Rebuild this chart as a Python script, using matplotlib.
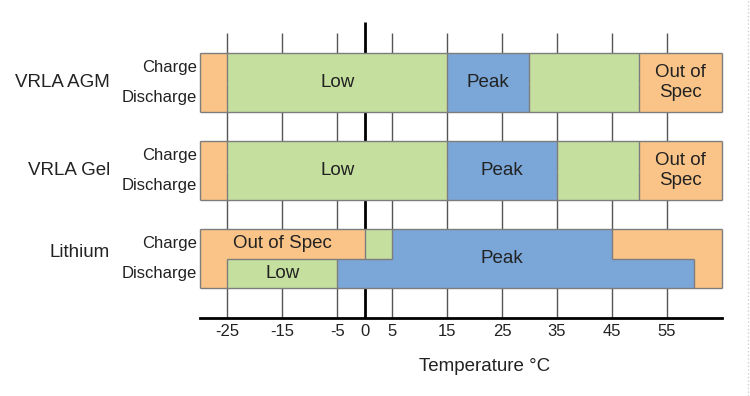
import matplotlib
matplotlib.use('Agg')
import matplotlib.pyplot as plt
from matplotlib.lines import Line2D

plt.rcParams['font.family'] = ['Liberation Sans', 'DejaVu Sans']
plt.rcParams['axes.unicode_minus'] = False

# ---------------------------------------------------------------------------
# data
# ---------------------------------------------------------------------------
rows = ['VRLA AGM', 'VRLA Gel', 'Lithium']

agm_charge_bounds = [-30, -25, 15, 30, 50, 65]
agm_charge_cats = ['out', 'low', 'peak', 'low', 'out']
agm_discharge_bounds = [-30, -25, 15, 30, 50, 65]
agm_discharge_cats = ['out', 'low', 'peak', 'low', 'out']

gel_charge_bounds = [-30, -25, 15, 35, 50, 65]
gel_charge_cats = ['out', 'low', 'peak', 'low', 'out']
gel_discharge_bounds = [-30, -25, 15, 35, 50, 65]
gel_discharge_cats = ['out', 'low', 'peak', 'low', 'out']

li_charge_bounds = [-30, 0, 5, 45, 65]
li_charge_cats = ['out', 'low', 'peak', 'out']
li_discharge_bounds = [-30, -25, -5, 60, 65]
li_discharge_cats = ['out', 'low', 'peak', 'out']

charge_bounds = [agm_charge_bounds, gel_charge_bounds, li_charge_bounds]
charge_cats = [agm_charge_cats, gel_charge_cats, li_charge_cats]
discharge_bounds = [agm_discharge_bounds, gel_discharge_bounds, li_discharge_bounds]
discharge_cats = [agm_discharge_cats, gel_discharge_cats, li_discharge_cats]

# (row, half, segment index in that half, text)   half: 'c', 'd' or 'both'
labels = [
    (0, 'both', 1, 'Low'), (0, 'both', 2, 'Peak'), (0, 'both', 4, 'Out of\nSpec'),
    (1, 'both', 1, 'Low'), (1, 'both', 2, 'Peak'), (1, 'both', 4, 'Out of\nSpec'),
    (2, 'c', 0, 'Out of Spec'), (2, 'd', 1, 'Low'), (2, 'both', 2, 'Peak'),
]

ticks = [-25, -15, -5, 0, 5, 15, 25, 35, 45, 55]

colors = {'out': '#FAC488', 'low': '#C5DF9E', 'peak': '#7BA6D8'}
EDGE = '#7d7d7d'
TXT = '#222222'

# ---------------------------------------------------------------------------
fig = plt.figure(figsize=(7.5, 3.96), dpi=100)
ax = fig.add_axes([200/750, 78/396, 521.6/750, 318/396])

H = 59/88          # bar height (row pitch = 1)
YBOT = 2.676
YTOP = -0.9375
row_label_dy = [0, 0, -0.07]   # the lithium name sits a bit high in the original

ax.set_xlim(-30, 65)
ax.set_ylim(YBOT, YTOP)

# grid lines behind bars
for t in ticks:
    if t == 0:
        ax.vlines(0, -0.6875, YBOT, color='black', lw=2, zorder=1)
    else:
        ax.vlines(t, -0.5625, YBOT, color='#555555', lw=1, zorder=1)


def cat_at(bounds, cats, x):
    for i in range(len(cats)):
        if bounds[i] <= x < bounds[i+1]:
            return cats[i]
    return cats[-1]


for r in range(len(rows)):
    cb, cc = charge_bounds[r], charge_cats[r]
    db, dc = discharge_bounds[r], discharge_cats[r]
    # charge half (top), discharge half (bottom)
    for i in range(len(cc)):
        ax.barh(r - H/4, cb[i+1] - cb[i], left=cb[i], height=H/2,
                color=colors[cc[i]], lw=0, zorder=2)
    for i in range(len(dc)):
        ax.barh(r + H/4, db[i+1] - db[i], left=db[i], height=H/2,
                color=colors[dc[i]], lw=0, zorder=2)

    # outlines
    ax.hlines([r - H/2, r + H/2], cb[0], cb[-1], color=EDGE, lw=1, zorder=3, clip_on=False)
    ax.vlines([cb[0], cb[-1]], r - H/2, r + H/2, color=EDGE, lw=1, zorder=3, clip_on=False)
    ax.vlines(cb[1:-1], r - H/2, r, color=EDGE, lw=1, zorder=3)
    ax.vlines(db[1:-1], r, r + H/2, color=EDGE, lw=1, zorder=3)
    xs = sorted(set(cb + db))
    for a, b in zip(xs[:-1], xs[1:]):
        m = (a + b) / 2
        if cat_at(cb, cc, m) != cat_at(db, dc, m):
            ax.hlines(r, a, b, color=EDGE, lw=1, zorder=3)

for r, half, seg, txt in labels:
    if half == 'd':
        b = discharge_bounds[r]
        y = r + H/4
    else:
        b = charge_bounds[r]
        y = r - H/4 if half == 'c' else r
    x = (b[seg] + b[seg+1]) / 2
    ax.text(x, y, txt, ha='center', va='center', fontsize=13.5, color=TXT,
            zorder=4, linespacing=1.2)

# row and half labels left of the axes
to_fig = fig.transFigure.inverted()
for r in range(len(rows)):
    yd = ax.transData.transform((0, r + row_label_dy[r]))[1]
    fig.text(110/750, to_fig.transform((0, yd))[1], rows[r],
             ha='right', va='center', fontsize=13.5, color=TXT)
    for dy, t in ((-H/4, 'Charge'), (H/4, 'Discharge')):
        yd = ax.transData.transform((0, r + dy))[1]
        fig.text(197/750, to_fig.transform((0, yd))[1], t,
                 ha='right', va='center', fontsize=12, color=TXT)

# axes cosmetics
for s in ('top', 'left', 'right'):
    ax.spines[s].set_visible(False)
ax.spines['bottom'].set_linewidth(2)
ax.spines['bottom'].set_color('black')
ax.set_yticks([])
ax.set_xticks(ticks)
ax.tick_params(axis='x', length=0, pad=4, labelsize=12, labelcolor=TXT)
ax.set_xlabel('Temperature °C', fontsize=13.5, color=TXT)
ax.xaxis.set_label_coords(0.546, -0.154)
ax.xaxis.label.set_va('center')

fig.add_artist(Line2D([0.997, 0.997], [0, 1], ls=':', color='#d0d0d0', lw=1))

fig.savefig('out.png', dpi=100)
